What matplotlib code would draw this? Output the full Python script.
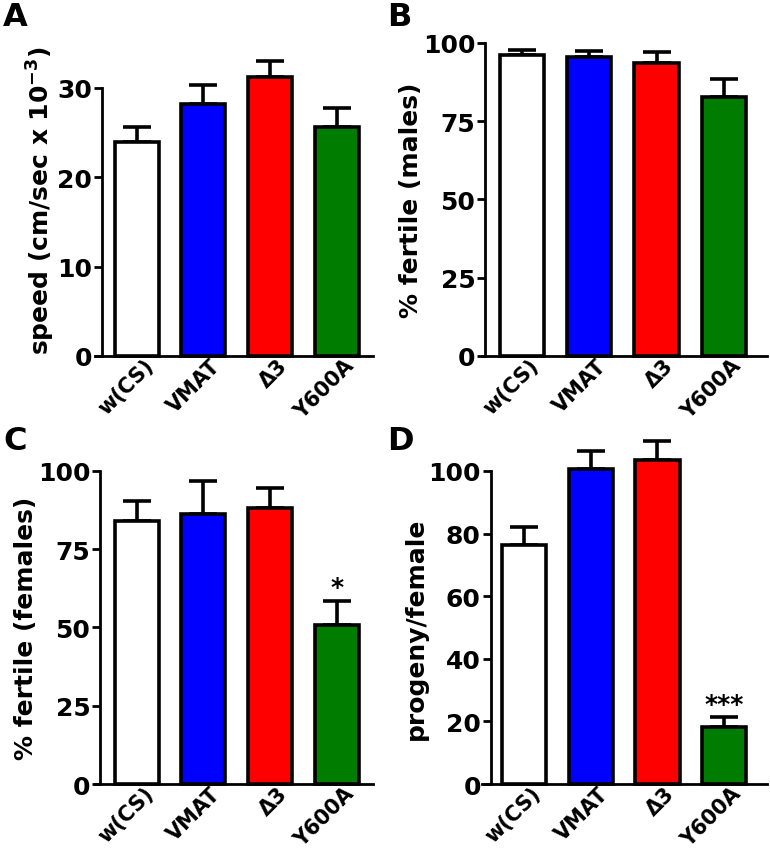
import matplotlib
matplotlib.use("Agg")
import matplotlib.pyplot as plt
import matplotlib.transforms as mtransforms

plt.rcParams['font.family'] = ['DejaVu Sans']
plt.rcParams['mathtext.fontset'] = 'dejavusans'

groups = ["w(CS)", "VMAT", "\u03943", "Y600A"]
colors = ["white", "#0000ff", "#ff0000", "#007d00"]

speed = [23.9, 28.2, 31.2, 25.6]
speed_err = [1.7, 2.1, 1.8, 2.1]

fert_males = [96.0, 95.4, 93.7, 82.8]
fert_males_err = [1.8, 2.0, 3.5, 5.7]

fert_females = [83.9, 86.1, 88.1, 50.9]
fert_females_err = [6.5, 10.8, 6.6, 7.7]

progeny = [76.5, 100.6, 103.5, 18.2]
progeny_err = [5.6, 5.9, 6.1, 3.1]

fig = plt.figure(figsize=(7.7, 8.53), dpi=100)


def panel(rect, vals, errs, ylabel, yticks, ylim, xlim, spine_off, letter, letter_xy,
          stars=None):
    ax = fig.add_axes(rect)
    # move the spine first, it resets the ticks
    ax.spines['left'].set_position(('axes', spine_off))
    x = range(len(vals))
    ax.bar(x, vals, width=0.66, color=colors, edgecolor='black', linewidth=2.6, zorder=3)
    ax.errorbar(x, vals, yerr=[[0] * len(errs), errs], fmt='none', ecolor='black',
                elinewidth=2.6, capsize=10, capthick=2.6, zorder=2)
    ax.set_xlim(*xlim)
    ax.set_ylim(*ylim)
    ax.set_yticks(yticks)
    ax.set_yticklabels([str(t) for t in yticks], fontsize=18, fontweight='bold')
    ax.set_xticks(list(x))
    ax.set_xticklabels(groups, rotation=45, ha='right', va='center', rotation_mode='anchor',
                       fontsize=15, fontweight='bold')
    ax.tick_params(axis='x', length=0, pad=0)
    ax.tick_params(axis='y', length=6, width=2, pad=1)
    shift = mtransforms.ScaledTranslation(10 / 72, -4.5 / 72, fig.dpi_scale_trans)
    for lab in ax.get_xticklabels():
        lab.set_transform(lab.get_transform() + shift)
    for s in ['top', 'right']:
        ax.spines[s].set_visible(False)
    ax.spines['left'].set_linewidth(2)
    ax.spines['bottom'].set_linewidth(2)
    ax.spines['left'].set_bounds(yticks[0], yticks[-1])
    ax.set_ylabel(ylabel, fontsize=18, fontweight='bold', labelpad=0)
    if stars:
        ax.annotate(stars, (3, vals[3] + errs[3]), xytext=(0, 1), textcoords='offset points',
                    ha='center', va='bottom', fontsize=18, fontweight='bold')
    for art in ax.get_children():
        art.set_clip_on(False)
    fig.text(letter_xy[0], letter_xy[1], letter, fontsize=23, fontweight='bold',
             ha='left', va='top')
    return ax


panel([0.1234, 0.5815, 0.361, 0.367], speed, speed_err,
      "speed (cm/sec x 10$^{\\mathbf{-3}}$)", [0, 10, 20, 30], (0, 35),
      (-0.625, 3.54), 0.025, "A", (0.004, 0.998))

panel([0.626, 0.5815, 0.370, 0.367], fert_males, fert_males_err,
      "% fertile (males)", [0, 25, 50, 75, 100], (0, 100),
      (-0.594, 3.64), 0.011, "B", (0.503, 0.998))

panel([0.1234, 0.0797, 0.361, 0.367], fert_females, fert_females_err,
      "% fertile (females)", [0, 25, 50, 75, 100], (0, 100),
      (-0.625, 3.54), 0.018, "C", (0.004, 0.5), stars="*")

panel([0.626, 0.0797, 0.370, 0.367], progeny, progeny_err,
      "progeny/female", [0, 20, 40, 60, 80, 100], (0, 100),
      (-0.63, 3.64), 0.03, "D", (0.503, 0.5), stars="***")

fig.savefig("out.png", dpi=100)
